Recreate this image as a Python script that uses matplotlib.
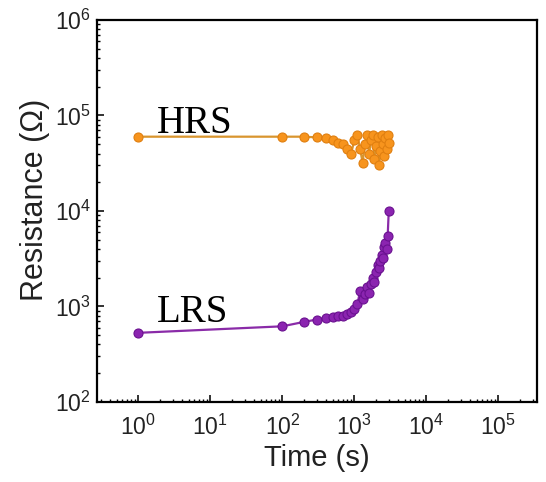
import matplotlib

matplotlib.use("Agg")
import matplotlib.pyplot as plt
from matplotlib.ticker import LogLocator, NullFormatter

# retention data
time_s = [1, 100, 200, 300, 400, 500, 600, 700, 800, 900, 1000,
          1100, 1200, 1300, 1400, 1500, 1600, 1700, 1800, 1900, 2000,
          2100, 2200, 2300, 2400, 2500, 2600, 2700, 2800, 2900, 3000]

hrs_ohm = [60000, 60000, 60000, 59000, 58000, 56000, 52000, 50000, 45000, 40000, 55000,
           62000, 45000, 32000, 50000, 62000, 40000, 55000, 62000, 35000, 48000,
           60000, 30000, 42000, 62000, 50000, 38000, 58000, 45000, 62000, 52000]

lrs_ohm = [530, 620, 690, 730, 760, 775, 790, 800, 830, 880, 950,
           1050, 1450, 1200, 1350, 1600, 1400, 1700, 2000, 1800, 2300,
           2700, 2500, 3000, 3500, 3200, 4200, 4600, 4000, 5500, 10000]

state_labels = ["HRS", "LRS"]
x_ticks = [1e0, 1e1, 1e2, 1e3, 1e4, 1e5]
y_ticks = [1e2, 1e3, 1e4, 1e5, 1e6]

plt.rcParams["font.family"] = ["Liberation Sans", "DejaVu Sans"]
plt.rcParams["mathtext.fontset"] = "custom"
plt.rcParams["mathtext.rm"] = "Liberation Sans"

fig = plt.figure(figsize=(5.46, 4.82), dpi=100)
ax = fig.add_axes([0.177, 0.166, 0.806, 0.7925])

ax.plot(time_s, hrs_ohm, "-o", color="#D9952E", linewidth=1.6,
        markersize=6.5, markerfacecolor="#F7941D", markeredgecolor="#E07F10",
        markeredgewidth=0.8)
ax.plot(time_s, lrs_ohm, "-o", color="#8A2BA8", linewidth=1.6,
        markersize=6.5, markerfacecolor="#8B24B0", markeredgecolor="#6A1190",
        markeredgewidth=0.8)

ax.text(1.82, 6.6e4, state_labels[0], family=["Liberation Serif"], fontsize=28,
        va="baseline", ha="left")
ax.text(1.82, 683, state_labels[1], family=["Liberation Serif"], fontsize=28,
        va="baseline", ha="left")

ax.set_xscale("log")
ax.set_yscale("log")
ax.set_xlim(0.264, 3.4e5)
ax.set_ylim(1e2, 1e6)

ax.set_xticks(x_ticks)
ax.set_yticks(y_ticks)
ax.xaxis.set_minor_locator(LogLocator(base=10, subs=range(2, 10), numticks=10))
ax.xaxis.set_minor_formatter(NullFormatter())
ax.yaxis.set_minor_locator(LogLocator(base=10, subs=range(2, 10), numticks=10))
ax.yaxis.set_minor_formatter(NullFormatter())

ax.tick_params(which="both", direction="in", top=False, right=False)
ax.tick_params(which="major", length=5, width=1.3, labelsize=16.5, colors="#222222")
ax.tick_params(which="minor", length=2.5, width=1.0)
ax.tick_params(axis="x", which="major", pad=9)
ax.tick_params(axis="y", which="major", pad=4)
for sp in ax.spines.values():
    sp.set_linewidth(1.6)

ax.set_xlabel("Time (s)", fontsize=21, labelpad=3, color="#222222")
ax.set_ylabel("Resistance (\u03a9)", fontsize=22, color="#222222")
ax.yaxis.set_label_coords(-0.105, 0.53)

fig.savefig("out.png", dpi=100)
